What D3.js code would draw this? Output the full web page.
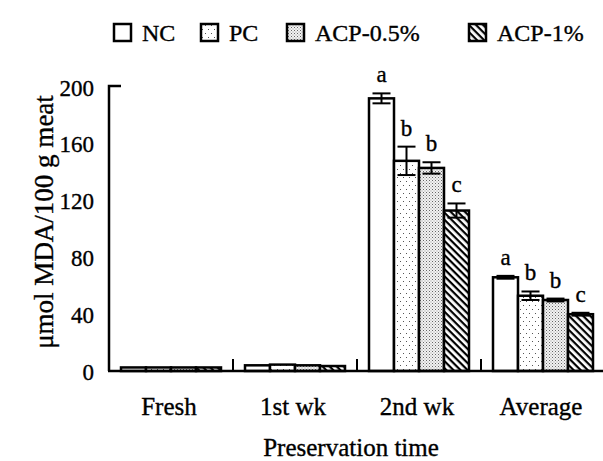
<!DOCTYPE html>
<html><head><meta charset="utf-8">
<script src="https://d3js.org/d3.v7.min.js"></script>
<style>body{margin:0;background:#fff}svg{display:block}text{font-family:"Liberation Serif","Times New Roman",serif;fill:#000;stroke:#000;stroke-width:0.35px}</style>
</head><body><svg id="c" width="603" height="461"></svg>
<script>
const groups = ["Fresh", "1st wk", "2nd wk", "Average"];
const seriesNames = ["NC", "PC", "ACP-0.5%", "ACP-1%"];
const valNC   = [2.5, 4.0, 192, 66];
const valPC   = [2.5, 4.5, 148, 53];
const valA05  = [2.5, 4.0, 143, 50];
const valA1   = [2.5, 3.5, 113, 40];
const errNC   = [0, 0, 3.5, 1];
const errPC   = [0, 0, 10, 3];
const errA05  = [0, 0, 4, 1];
const errA1   = [0, 0, 5, 1];
const lettersNC  = ["", "", "a", "a"];
const lettersPC  = ["", "", "b", "b"];
const lettersA05 = ["", "", "b", "b"];
const lettersA1  = ["", "", "c", "c"];
const yTicks = [0, 40, 80, 120, 160, 200];

const values = [valNC, valPC, valA05, valA1];
const errs = [errNC, errPC, errA05, errA1];
const letters = [lettersNC, lettersPC, lettersA05, lettersA1];
const fills = ["#fff", "url(#pPC)", "url(#pA05)", "url(#pA1)"];

const svg = d3.select("#c");
const defs = svg.append("defs");
let p = defs.append("pattern").attr("id","pPC").attr("patternUnits","userSpaceOnUse").attr("width",6).attr("height",8);
p.append("rect").attr("width",6).attr("height",8).attr("fill","#fff");
p.append("rect").attr("x",1).attr("y",1).attr("width",1).attr("height",1).attr("fill","#555");
p.append("rect").attr("x",4).attr("y",5).attr("width",1).attr("height",1).attr("fill","#555");
p = defs.append("pattern").attr("id","pA05").attr("patternUnits","userSpaceOnUse").attr("width",3).attr("height",3);
p.append("rect").attr("width",3).attr("height",3).attr("fill","#f2f2f2");
p.append("rect").attr("x",0).attr("y",0).attr("width",1).attr("height",1).attr("fill","#666");
p.append("rect").attr("x",1.5).attr("y",1.5).attr("width",1).attr("height",1).attr("fill","#999");
p = defs.append("pattern").attr("id","pA1").attr("patternUnits","userSpaceOnUse").attr("width",5).attr("height",5).attr("patternTransform","rotate(45)");
p.append("rect").attr("width",5).attr("height",5).attr("fill","#fff");
p.append("rect").attr("x",0).attr("y",0).attr("width",5).attr("height",2.2).attr("fill","#000");

const x0 = d3.scaleBand().domain(groups).range([109, 605]).padding(0);
const x1 = d3.scaleBand().domain(seriesNames).range([12, 112]).padding(0);
const y = d3.scaleLinear().domain([0, 200]).range([371, 87]);

seriesNames.forEach((s, si) => {
  const g = svg.append("g");
  groups.forEach((grp, gi) => {
    const v = values[si][gi];
    const bx = x0(grp) + x1(s);
    g.append("rect").attr("x", bx).attr("y", y(v)).attr("width", x1.bandwidth()).attr("height", y(0) - y(v))
      .attr("fill", fills[si]).attr("stroke", "#000").attr("stroke-width", 2.5);
    const e = errs[si][gi];
    const cx = bx + x1.bandwidth() / 2;
    if (e > 0) {
      g.append("line").attr("x1", cx).attr("x2", cx).attr("y1", y(v + e)).attr("y2", y(v - e)).attr("stroke", "#000").attr("stroke-width", 2);
      [v + e, v - e].forEach(t => g.append("line").attr("x1", cx - 9).attr("x2", cx + 9).attr("y1", y(t)).attr("y2", y(t)).attr("stroke", "#000").attr("stroke-width", 2));
    }
    if (letters[si][gi]) {
      g.append("text").attr("x", cx).attr("y", y(v + e) - 11).attr("text-anchor", "middle")
        .attr("font-size", 23).text(letters[si][gi]);
    }
  });
});

const xAxis = svg.append("g");
xAxis.append("line").attr("x1", 108).attr("x2", 603).attr("y1", 371).attr("y2", 371).attr("stroke", "#000").attr("stroke-width", 2.5);
groups.slice(1).forEach(grp => {
  xAxis.append("line").attr("x1", x0(grp)).attr("x2", x0(grp)).attr("y1", 371).attr("y2", 359).attr("stroke", "#000").attr("stroke-width", 2);
});
groups.forEach(grp => {
  xAxis.append("text").attr("x", x0(grp) + x0.bandwidth() / 2 - 2).attr("y", 415).attr("text-anchor", "middle").attr("font-size", 25).text(grp);
});

const yAxis = svg.append("g").attr("transform", "translate(109,0)")
  .call(d3.axisLeft(y).tickValues(yTicks).tickSize(0).tickPadding(15));
yAxis.select(".domain").attr("stroke", "#000").attr("stroke-width", 2.5).attr("d", "M0,371V86H12");
yAxis.selectAll(".tick text").attr("font-size", 23).attr("font-family", "Liberation Serif").attr("fill", "#000").attr("dy", "0.35em");

svg.append("text").attr("x", 351).attr("y", 456).attr("text-anchor", "middle").attr("font-size", 25).text("Preservation time");
svg.append("text").attr("transform", "translate(53,222) rotate(-90)").attr("text-anchor", "middle").attr("font-size", 27).text("μmol MDA/100 g meat");

const legX = [114, 201, 287, 469];
const leg = svg.append("g");
seriesNames.forEach((s, i) => {
  leg.append("rect").attr("x", legX[i]).attr("y", 24).attr("width", 17).attr("height", 17)
    .attr("fill", fills[i]).attr("stroke", "#000").attr("stroke-width", 2.5);
  leg.append("text").attr("x", legX[i] + 28).attr("y", 41).attr("font-size", 24).text(s);
});
</script></body></html>
